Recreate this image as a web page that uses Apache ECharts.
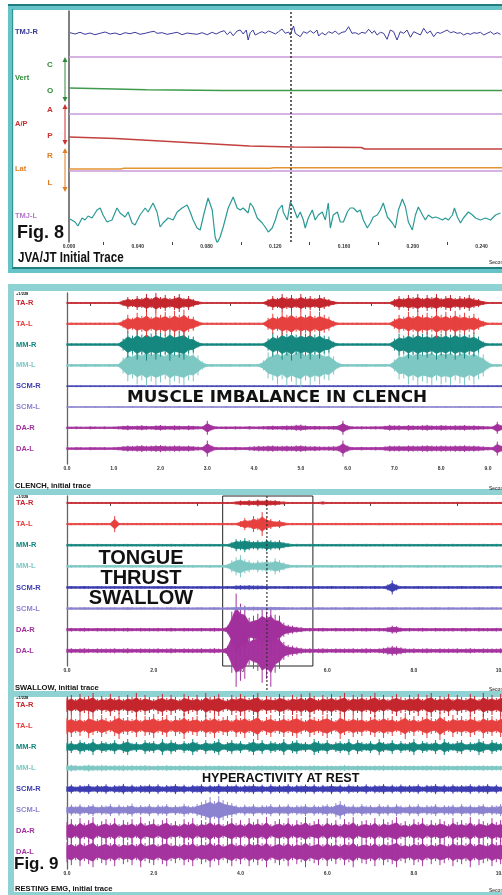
<!DOCTYPE html>
<html>
<head>
<meta charset="utf-8">
<script src="https://cdn.jsdelivr.net/npm/echarts@6/dist/echarts.min.js"></script>
<style>
html,body{margin:0;padding:0;background:#fff}
#chart{width:502px;height:895px}
</style>
</head>
<body>
<div id="chart"></div>
<script>
// ===== Fig. 8 : jaw tracking + joint vibration (time in ms) =====
const fig8Lanes = ['TMJ-R', 'Vert', 'A/P', 'Lat', 'TMJ-L'];
const fig8Letters = ['C', 'O', 'A', 'P', 'R', 'L'];

// [ms, amplitude]
const tmjR = [[0.6,0.3],[3.5,-1],[6.4,0.7],[9.3,-1.3],[12.2,0],[15.1,-1.7],[18.1,-0.3],[21.0,1],[23.9,-1],[26.8,0],[29.7,-1.7],[32.6,0.3],[35.5,-0.7],[38.4,0.7],[41.3,-1.3],[44.3,-0.3],[47.2,1],[49.5,1.7],[51.2,-0.3],[54.2,0.3],[57.1,-1.3],[60.0,-0.3],[62.9,0.7],[65.8,-1.7],[68.7,0],[71.6,-0.7],[74.5,-1.3],[77.4,0.3],[80.4,-1.7],[83.3,0.7],[85.6,-1],[87.9,1],[90.3,2.3],[92.0,-1.7],[93.8,1.3],[95.5,-2.7],[97.8,2],[99.6,3],[101.3,-1],[103.1,3],[104.2,-7],[105.4,0.3],[107.0,3],[108.3,-2],[110.2,-0.3],[112.2,1.3],[114.1,-0.3],[116.1,2],[118.0,0.7],[120.0,-1],[121.9,1.3],[123.9,4],[125.8,-0.3],[127.7,1],[128.7,-2],[129.7,3],[130.6,7],[131.6,-0.3],[132.6,1.3],[134.5,-3.7],[136.4,1.3],[138.4,-0.3],[140.3,2.3],[142.3,-0.3],[144.2,3],[145.2,-3],[147.1,0.3],[149.1,-2],[151.0,1.3],[153.0,-0.3],[154.9,2],[156.8,-1.3],[158.8,0.7],[160.7,1.3],[162.6,6.3],[164.6,-0.3],[166.5,0.3],[168.5,-1.3],[170.4,0.7],[172.4,-0.3],[174.3,3.7],[176.3,-0.3],[177.6,2.3],[179.2,-2],[181.1,0.7],[183.0,-0.3],[185.0,-6.3],[186.9,3],[188.8,1.3],[190.8,-7],[192.7,1.3],[194.7,-0.3],[196.6,3],[198.6,-4.3],[200.5,1.3],[202.5,-0.3],[204.4,-2],[206.3,4.7],[208.3,-0.3],[210.2,2],[212.1,-3.7],[214.1,0.7],[216.0,-0.3],[218.0,1.3],[219.9,3],[221.9,0.3],[223.8,1.3],[225.8,-0.3],[227.7,0.3],[229.6,-2],[231.6,-0.3],[233.5,-1.3],[235.5,0.3],[237.4,-0.3],[239.3,0.7],[241.3,-2],[243.2,-0.3],[245.2,1.3],[247.1,-1.3],[249.1,0.3],[251.0,-1.3]];
const tmjL = [[0.6,-1],[3.5,-4],[5.2,-8],[7.6,0],[9.3,-2],[11.1,2],[13.4,0],[16.3,8],[18.1,10],[19.8,3],[22.1,-4],[25.0,-2],[27.9,10],[29.7,5],[32.6,1],[34.4,6],[36.7,-5],[38.4,-7],[41.3,3],[44.3,10],[46.0,6],[48.9,15],[51.2,6],[53.0,-9],[54.7,-5],[57.6,0],[60.6,-2],[62.9,6],[65.8,10],[68.7,13],[70.5,6],[72.2,-2],[74.5,-10],[76.3,-12],[78.6,5],[80.9,20],[83.3,8],[85.0,-19],[86.2,-25],[87.9,-19],[89.7,-9],[92.6,10],[95.5,21],[97.8,10],[99.6,8],[101.3,10],[104.2,5],[105.4,15],[107.1,11],[109.5,0],[112.4,-5],[114.1,-9],[115.9,-14],[118.2,-10],[120.0,-2],[121.7,8],[124.0,13],[124.6,6],[127.0,-2],[128.7,16],[130.4,11],[132.8,0],[134.5,6],[136.3,-2],[137.4,-10],[139.2,0],[141.5,8],[143.2,-2],[145.0,3],[147.3,6],[149.1,-2],[150.8,15],[152.0,-10],[153.7,3],[156.1,6],[157.8,-4],[159.6,-4],[161.9,6],[163.6,10],[165.4,10],[167.7,6],[169.4,8],[171.2,-2],[173.5,-10],[175.3,-5],[177.0,1],[179.3,3],[181.1,8],[182.8,15],[185.2,1],[188.1,-5],[189.8,-10],[191.6,8],[193.9,19],[195.7,11],[197.4,-4],[199.7,-12],[201.5,3],[203.2,11],[205.6,3],[207.3,-2],[209.0,3],[211.4,0],[213.1,1],[214.9,0],[217.2,-2],[218.9,0],[220.7,-2],[223.0,3],[224.2,10],[225.9,1],[227.7,-5],[229.4,0],[232.3,6],[234.7,3],[236.4,0],[239.3,-2],[242.2,0],[245.2,-2],[248.1,3],[251.0,5]];
// jaw position traces [ms, displacement]
const vertTrace = [[0,0],[20,-0.7],[45,-1.8],[90,-2.6],[260,-2.6]];
const apTrace = [[0,0],[27,-1.5],[105,-9],[131,-10],[170,-10.5],[172,-12],[260,-12]];
const latTrace = [[0,0],[30,0],[32,0.7],[117,0.7],[119,1.3],[260,1.3]];
const fig8Cursor = 128.7;

// ===== Fig. 9 : surface EMG envelopes, one sample every 0.1 s =====
const emgLanes = ['TA-R', 'TA-L', 'MM-R', 'MM-L', 'SCM-R', 'SCM-L', 'DA-R', 'DA-L'];
const sampleStep = 0.1;

const clenchTAR = [0.8,0.9,0.8,0.8,0.9,0.8,0.8,0.9,0.8,0.8,0.9,0.8, 3,6,4,7,5,9,5,10,6,8,5,7,9,5,7,4,2, 0.8,0.9,0.8,0.8,0.9,0.8,0.8,0.9,0.8,0.8,0.9,0.8,0.8,0.9, 4,7,5,9,6,8,5,9,6,7,5,8,6,4,2, 0.8,0.9,0.8,0.8,0.9,0.8,0.8,0.9,0.8,0.8,0.9,0.8, 4,7,5,8,6,9,5,8,6,9,5,7,8,5,7,6,8,5,4,2, 0.8,0.9,0.8,0.8,0.9,0.8,0.8];
const clenchTAL = [1,1.1,1,1,1.1,1,1,1.1,1,1,1.1,1, 4,9,6,11,8,13,7,11,9,12,8,13,9,14,8,7,3, 1,1.1,1,1,1.1,1,1,1.1,1,1,1.1,1,1,1.1, 6,10,7,12,9,14,8,12,9,13,8,12,9,7,3, 1,1.1,1,1,1.1,1,1,1.1,1,1,1.1,1, 5,9,7,12,8,13,9,11,8,14,9,12,8,13,9,11,8,10,6,3, 1,1.1,1,1,1.1,1,1];
const clenchMMR = [1.2,1.3,1.2,1.2,1.3,1.2,1.2,1.3,1.2,1.2,1.3,1.2, 6,13,9,15,10,16,11,15,12,10,16,11,13,15,9,8,3, 1.2,1.3,1.2,1.2,1.3,1.2,1.2,1.3,1.2,1.2,1.3,1.2,1.2,1.3, 6,12,9,15,11,16,10,14,11,15,10,14,9,8,3, 1.2,1.3,1.2,1.2,1.3,1.2,1.2,1.3,1.2,1.2,1.3,1.2, 6,11,9,14,10,15,11,13,10,15,11,14,10,15,11,14,10,12,8,3, 1.2,1.3,1.2,1.2,1.3,1.2,1.2];
const clenchMML = [1.2,1.5,1.2,1.4,1.6,1.2,1.5,1.3,1.2,1.5,1.3,1.4, 8,16,13,19,15,21,16,20,17,14,21,16,18,20,15,16,10,4, 1.3,1.5,1.2,1.4,1.3,1.5,1.2,1.4,1.3,1.5,1.2,1.4, 5,13,15,19,14,21,16,20,22,15,20,16,19,14,15,9,3, 1.3,1.5,1.2,1.4,1.3,1.5,1.2,1.4,1.3,1.5,1.2, 6,14,13,19,15,20,16,18,20,15,19,17,20,15,18,20,15,19,14,11,4, 1.3,1.5,1.2,1.4,1.3,1.5];
const clenchSCMR = [0.7,0.6,0.7,0.7,0.6,0.7,0.6,0.7,0.7,0.6, 0.7,0.6,0.7,0.7,0.6,0.7,0.6,0.7,0.7,0.6, 0.7,0.6,0.7,0.7,0.6,0.7,0.6,0.7,0.7,0.6, 0.7,0.6,0.7,0.7,0.6,0.7,0.6,0.7,0.7,0.6, 0.7,0.6,0.7,0.7,0.6,0.7,0.6,0.7,0.7,0.6, 0.7,0.6,0.7,0.7,0.6,0.7,0.6,0.7,0.7,0.6, 0.7,0.6,0.7,0.7,0.6,0.7,0.6,0.7,0.7,0.6, 0.7,0.6,0.7,0.7,0.6,0.7,0.6,0.7,0.7,0.6, 0.7,0.6,0.7,0.7,0.6,0.7,0.6,0.7,0.7,0.6, 0.7,0.6,0.7,0.7,0.6,0.7,0.6];
const clenchSCML = [0.6,0.7,0.6,0.6,0.7,0.6,0.7,0.6,0.6,0.7, 0.6,0.7,0.6,0.6,0.7,0.6,0.7,0.6,0.6,0.7, 0.6,0.7,0.6,0.6,0.7,0.6,0.7,0.6,0.6,0.7, 0.6,0.7,0.6,0.6,0.7,0.6,0.7,0.6,0.6,0.7, 0.6,0.7,0.6,0.6,0.7,0.6,0.7,0.6,0.6,0.7, 0.6,0.7,0.6,0.6,0.7,0.6,0.7,0.6,0.6,0.7, 0.6,0.7,0.6,0.6,0.7,0.6,0.7,0.6,0.6,0.7, 0.6,0.7,0.6,0.6,0.7,0.6,0.7,0.6,0.6,0.7, 0.6,0.7,0.6,0.6,0.7,0.6,0.7,0.6,0.6,0.7, 0.6,0.7,0.6,0.6,0.7,0.6,0.7];
const clenchDAR = [1.2,1.0,1.3,1.1,1.0,1.4,1.2,1.1,1.3,1.0,1.2,1.5, 2,2.5,1.8,2.2,2.6,2,1.8,2.4,2.8,2.2,2,2.5,2.2,1.8,2.4,2,1.6,1.5, 7, 2.5,1.3,1.2,1.4,1.2,1.5,1.3,1.2,1.6,1.3,1.4,1.6, 1.8,2.2,1.8,2,2.4,2.2,3,3.2,2.4,1.8,2,1.8,1.6,1.8,2,2.4, 7, 2.5,1.4,1.3,1.5,1.3,1.4,1.6,1.4,2,3, 2.4,2.6,2,2.8,2.4,2.2,2.6,3,2.4,2.2,2.8,2.5,2.2,2.6,2.4,2.8,2.2,2.5,2,1.8,1.5,1.4, 6, 2.5,1.5,1.3,1.4];
const clenchDAL = [1.3,1.2,1.5,1.3,1.2,1.6,1.4,1.3,1.5,1.2,1.4,1.7, 2.5,3,2.6,3.2,3.5,2.8,3,3.4,3.6,3,2.8,3.2,3,2.6,3,2.5,2,1.8, 8, 3,1.5,1.4,1.6,1.4,1.8,1.5,1.4,2,2.4,2.8,2.6, 3,3.2,2.6,2.8,3,2.6,3.2,3.4,2.8,2.4,2.6,2.2,2,2.2,2.4,2.8, 8, 3,1.6,1.5,1.8,1.5,1.6,1.8,1.6,2.2,3, 2.8,3,2.6,3.2,3,2.8,3.2,3.4,3,2.8,3.2,3,2.8,3.2,3,3.4,2.8,3,2.6,2.2,1.8,1.6, 7, 3,1.8,1.5,1.6];

const swallowTAR = [0.8,0.9,0.8,0.8,0.9,0.8,0.8,0.9,0.8,0.8, 0.9,0.8,0.8,0.9,0.8,0.8,0.9,0.8,0.8,0.9, 0.8,0.8,0.9,0.8,0.8,0.9,0.8,0.8,0.9,0.8, 0.8,0.9,0.8,0.8,0.9,0.8,0.8,0.9,0.8, 1.5,2.5,2,3,2.2,3.5,2.4,3.6,2.6,2.8,1.8,1.4, 0.8,0.9,0.8,0.8,0.9,0.8,0.8,0.9,1.5,0.8, 0.9,0.8,0.8,0.9,0.8,0.8,0.9,0.8,0.8,0.9, 0.9,0.8,0.8,0.9,0.8,0.8,0.9,0.8,0.8,0.9, 0.9,0.8,0.8,0.9,0.8,0.8,0.9,0.8,0.8,0.9, 0.9,0.8,0.8,0.9,0.8,0.8,0.9,0.8,0.8,0.9, 0.8,0.9,0.8,0.8];
const swallowTAL = [1,1.1,1,1,1.1,1,1,1.1,1,1,1.1, 8, 1,1,1.1,1,1,1.1,1,1,1.1,1, 1,1.1,1,1,1.1,1,1,1.1,1,1, 1.1,1,1,1.1,1,1,1.1,1, 3,6,4,8,6,12,6,5,3,4,2, 1,1.1,1,1,1.1,1,1,1.1,1,1, 1,1.1,1,1,1.1,1,1,1.1,1,1, 1,1.1,1,1,1.1,1,1,1.1,1,1, 1,1.1,1,1,1.1,1,1,1.1,1,1, 1,1.1,1,1,1.1,1,1,1.1,1,1, 1.1,1,1,1.1];
const swallowMMR = [1.2,1.3,1.2,1.2,1.3,1.2,1.2,1.3,1.2,1.2, 1.2,1.3,1.2,1.2,1.3,1.2,1.2,1.3,1.2,1.2, 1.2,1.3,1.2,1.2,1.3,1.2,1.2,1.3,1.2,1.2, 1.3,1.2,1.2,1.3,1.2,1.2,1.3,1.2, 3,6,5,7,5,4,5,4,6,5,4,5,3,2, 1.2,1.3,1.2,1.2,1.3,1.2,1.2,1.3,1.2,1.2, 1.2,1.3,1.2,1.2,1.3,1.2,1.2,1.3,1.2,1.2, 1.2,1.3,1.2,1.2,1.3,1.2,1.2,1.3,1.2,1.2, 1.2,1.3,1.2,1.2,1.3,1.2,1.2,1.3,1.2,1.2, 1.2,1.3,1.2,1.2,1.3,1.2,1.2,1.3,1.2,1.2, 1.3,1.2,1.2];
const swallowMML = [1.2,1.4,1.2,1.3,1.2,1.4,1.2,1.3,1.2,1.4, 1.2,1.4,1.2,1.3,1.2,1.4,1.2,1.3,1.2,1.4, 1.2,1.4,1.2,1.3,1.2,1.4,1.2,1.3,1.2,1.4, 1.2,1.3,1.2,1.4,1.2,1.3,1.2, 2,6,9,11,7,6,4,6,5,7,5,8,6,4,2, 1.2,1.4,1.2,1.3,1.2,1.4,1.2,1.3,1.2,1.4, 1.2,1.4,1.2,1.3,1.2,1.4,1.2,1.3,1.2,1.4, 1.2,1.4,1.2,1.3,1.2,1.4,1.2,1.3,1.2,1.4, 1.2,1.4,1.2,1.3,1.2,1.4,1.2,1.3,1.2,1.4, 1.2,1.4,1.2,1.3,1.2,1.4,1.2,1.3,1.2,1.4, 1.2,1.3,1.2];
const swallowSCMR = [1.3,1.4,1.2,1.3,1.5,1.3,1.2,1.4,1.3,1.2, 1.3,1.4,1.2,1.3,1.5,1.3,1.2,1.4,1.3,1.2, 1.3,1.4,1.2,1.3,1.5,1.3,1.2,1.4,1.3,1.2, 1.3,1.4,1.2,1.3,1.5,1.3,1.2,1.4,1.3, 2,2.2,2,2.3,2,2,1.8,1.6, 1.3,1.4,1.2,1.3,1.5,1.3,1.2,1.4,1.3,1.2, 1.3,1.4,1.2,1.3,1.5,1.3,1.2,1.4,1.3,1.2, 1.3,1.4,1.2,1.3,1.5,1.3,1.2, 3,7,3, 1.3,1.4,1.2,1.3,1.5,1.3,1.2,1.4,1.3,1.2, 1.3,1.4,1.2,1.3,1.5,1.3,1.2,1.4,1.3,1.2, 1.3,1.4,1.2,1.3,1.5,1.3,1.2,1.4];
const swallowSCML = [1.2,1.3,1.1,1.2,1.4,1.2,1.1,1.3,1.2,1.1, 1.2,1.3,1.1,1.2,1.4,1.2,1.1,1.3,1.2,1.1, 1.2,1.3,1.1,1.2,1.4,1.2,1.1,1.3,1.2,1.1, 1.2,1.3,1.1,1.2,1.4,1.2,1.1,1.3,1.2, 1.8,1.9,1.7,1.8,2,1.8,1.7,1.9,1.8,1.7,1.6,1.5, 1.2,1.3,1.1,1.2,1.4,1.2,1.1,1.3,1.2,1.1, 1.2,1.3,1.1,1.2,1.4,1.2,1.1,1.3,1.2,1.1, 1.2,1.3,1.1,1.2,1.4,1.2,1.1,1.3,1.2,1.1, 1.2,1.3,1.1,1.2,1.4,1.2,1.1,1.3,1.2,1.1, 1.2,1.3,1.1,1.2,1.4,1.2,1.1,1.3,1.2,1.1, 1.2,1.3,1.1,1.2];
const swallowDAR = [1.6,1.8,1.5,1.7,1.9,1.6,1.5,1.8,1.6,1.7, 1.6,1.8,1.5,1.7,1.9,1.6,1.5,1.8,1.6,1.7, 1.6,1.8,1.5,1.7,1.9,1.6,1.5,1.8,1.6,1.7, 1.6,1.8,1.5,1.7,1.9,1.6,1.5, 4,18,36,26,24,12,14,16,22,18,22,15,14,7,5,4,3,2.5, 1.6,1.8,1.5,1.7,1.9,1.6,1.5,1.8,1.6,1.7, 1.6,1.8,1.5,1.7,1.9,1.6,1.5,1.8,1.6, 2.5,4,3.5,2, 1.6,1.8,1.5,1.7,1.9,1.6,1.5,1.8,1.6,1.7, 1.6,1.8,1.5,1.7,1.9,1.6,1.5,1.8,1.6,1.7, 1.6,1.8,1.5,1.7,1.9,1.6,1.5];
const swallowDAL = [2.2,2.5,2,2.3,2.6,2.2,2,2.4,2.2,2.3, 2.2,2.5,2,2.3,2.6,2.2,2,2.4,2.2,2.3, 2.2,2.5,2,2.3,2.6,2.2,2,2.4,2.2,2.3, 2.2,2.5,2,2.3,2.6,2.2,2, 5,22,36,30,28,14,18,20,32,28,36,22,18,9,6,5,4,3, 2.2,2.5,2,2.3,2.6,2.2,2,2.4,2.2,2.3, 2.2,2.5,2,2.3,2.6,2.2,2,2.4, 3,4,5,4.5,3.5,2.5, 2.2,2.5,2,2.3,2.6,2.2,2,2.4,2.2,2.3, 2.2,2.5,2,2.3,2.6,2.2,2,2.4,2.2,2.3, 2.2,2.5,2,2.3,2.6,2.2];

const restTAR = [7,10,6,11,8,9,12,6,9,7, 11,7,9,6,10,8,12,7,10,8, 6,9,11,7,10,8,6,11,9,7, 10,6,12,8,9,11,7,6,10,8, 11,9,7,10,12,6,9,8,7,11, 9,6,10,8,11,7,12,9,6,10, 8,11,7,9,12,6,10,8,11,7, 9,12,7,10,6,9,11,8,7,10, 8,11,6,10,12,7,9,8,11,6, 10,8,7,11,9,6,12,8,10,7, 11,9,6,10,8];
const restTAL = [8,11,7,10,6,12,9,7,11,8, 6,10,13,8,9,7,11,6,10,9, 12,7,9,11,6,10,8,13,7,9, 10,6,11,8,12,7,9,10,6,11, 8,12,7,10,14,6,9,11,7,8, 11,7,10,12,8,6,11,9,7,10, 12,8,6,13,9,7,11,8,10,6, 9,11,7,12,8,10,6,9,13,7, 10,6,9,12,8,7,14,9,6,11, 8,10,7,11,9,6,12,8,10,7, 11,9,7,10,8];
const restMMR = [4,6,3,7,5,4,8,3,6,5, 4,7,3,6,8,4,5,3,7,5, 6,3,8,4,7,5,3,6,4,8, 5,3,7,4,6,8,3,5,7,4, 6,3,5,8,4,7,3,6,5,4, 8,3,6,7,4,5,3,8,6,4, 7,3,5,6,4,8,3,7,5,4, 6,3,8,5,4,7,3,6,4,5, 8,3,6,5,4,7,3,8,5,4, 6,7,3,5,4,8,6,3,7,5, 4,6,3,7,5];
const restMML = [3,3.5,3,2.5,3,3.5,3,2.8,3.2,3, 2.5,3,2.8,3.2,2.6,3,2.5,2.8,3,2.6, 2.4,2.8,2.5,3,2.6,2.4,2.8,2.5,2.7,2.4, 2.6,2.3,2.8,2.5,2.4,2.7,2.5,2.3,2.6,2.5, 2.4,2.7,2.5,2.3,2.6,2.8,2.4,2.5,2.7,2.4, 2.6,2.5,2.3,2.7,2.5,2.4,2.6,2.8,2.5,2.4, 2.7,2.5,2.4,2.6,3,2.5,2.4,2.7,2.5,2.6, 2.4,2.6,2.5,2.8,2.4,2.6,2.5,2.4,2.7,2.5, 2.6,2.4,2.5,2.7,2.5,2.3,2.6,2.8,2.5,2.4, 2.6,2.5,2.7,2.4,2.6,2.5,2.8,2.4,2.6,2.5, 2.4,2.6,2.5,2.7,2.5];
const restSCMR = [3,4.5,2.6,4,3.4,5,2.8,4.2,3.2,4.8, 2.6,4,3.6,5.2,3,4.4,2.8,4,3.6,4.6, 3,4.8,2.8,4,3.4,5,3,4.4,2.6,4.2, 3.6,4.8,2.8,4.2,3.2,5,3,4.4,3.4,4.6, 2.8,4.2,3.6,5,3,4.4,2.6,4.8,3.2,4, 3.4,5,2.8,4.2,3.6,4.6,3,4.8,2.8,4.2, 3.2,5,3,4.4,2.6,4.6,3.4,4,3,4.8, 2.8,4.2,3.6,5,3,4.4,2.8,4.6,3.2,4, 3.4,4.8,2.6,4.2,3.6,5,3,4.4,2.8,4.6, 3.2,4,3.4,4.8,2.8,4.2,3.6,5,3,4.4, 2.6,4.6,3.2,4.8,3];
const restSCML = [3.5,5.5,4,6,3.5,5,6,3.5,5,4.5, 6,3.5,5.5,4,5,6.5,3.5,5,4,6, 3.5,5.5,4.5,6,3.5,5,4,6.5,4.5,4, 6,8,10,13,9,14,10,8,7,5, 3.5,5.5,4,6,3.5,5,4.5,6,3.5,5.5, 4,6,3.5,5,4.5,6,3.5,5.5,4,5, 6,4,7,9,6,4,5.5,3.5,6,4.5, 5,3.5,6,4,5.5,3.5,6,4.5,3.5,5.5, 4,6,3.5,5,4.5,6,3.5,5,4.5,5.5, 3.5,6,4,5.5,3.5,5,6,3.5,5,4.5, 6,3.5,5.5,4,5];
const restDAR = [9,12,7,13,8,11,14,7,10,12, 8,13,7,11,9,12,7,14,8,10, 12,7,11,13,8,10,7,12,9,13, 7,11,9,14,8,12,7,10,13,8, 11,7,13,9,12,8,14,7,10,12, 8,13,7,11,9,14,8,10,12,7, 13,8,11,7,12,9,14,7,10,11, 8,13,7,12,9,11,14,8,10,7, 12,9,13,7,11,8,12,10,7,13, 9,11,8,14,7,12,10,8,13,9, 11,7,12,9,10];
const restDAL = [10,13,8,14,9,12,15,8,11,13, 9,14,8,12,10,13,8,15,9,11, 13,8,12,14,9,11,8,13,10,14, 8,12,10,15,9,13,8,11,14,9, 12,8,14,10,13,9,15,8,11,13, 9,14,8,12,10,15,9,11,13,8, 14,9,12,8,13,10,15,8,11,12, 9,14,8,13,10,12,15,9,11,8, 13,10,14,8,12,9,13,11,8,14, 10,12,9,15,8,13,11,9,14,10, 12,8,13,10,11];

const swallowWindow = [3.59, 5.67];
const swallowCursor = 4.61;

// ===== styling =====
const NARROW = '"Liberation Sans Narrow", "Arial Narrow", "Liberation Sans", Arial, sans-serif';
const SANS = '"Liberation Sans", Arial, sans-serif';
const emgColors = ['#c4262e', '#e6403f', '#15877f', '#7ec8c4', '#3d3db2', '#8b83cf', '#a2309c', '#a5349f'];
const fig8TraceColors = { tmjR: '#3b3b9d', vert: '#3f9a4d', ap: '#c2413f', lat: '#e39433', tmjL: '#2a9a96' };
const fig8LabelColors = ['#3a3a9a', '#2e8a3a', '#cc3030', '#e07b22', '#b27ac8'];
const fig8LetterColors = ['#2e8a3a', '#2e8a3a', '#cc3030', '#cc3030', '#e07b22', '#e07b22'];

// Fig. 8 vertical layout (y axis runs 0..231, bottom to top)
const fig8LabelAt = [210, 164, 118, 73, 26];
const fig8LetterAt = [177, 151, 132, 106, 86, 59];
const fig8Base = { tmjR: 209, vert: 154, ap: 105, lat: 73, tmjL: 24 };
const fig8RefLines = [185, 128, 71];

function richFor(colors, size) {
  const r = {};
  colors.forEach((c, i) => { r['k' + i] = { color: c, fontSize: size, fontWeight: 'bold', fontFamily: NARROW }; });
  return r;
}

function emgXAxis(gridIndex, max, interval) {
  return {
    gridIndex, type: 'value', min: 0, max, interval,
    axisLine: { show: false }, axisTick: { show: false },
    minorTick: { show: true, splitNumber: 2, length: 3, lineStyle: { color: '#444', width: 1 } },
    splitLine: { show: false }, minorSplitLine: { show: false },
    axisLabel: { fontSize: 5, color: '#333', fontWeight: 'bold', margin: 2, showMaxLabel: false,
      formatter: v => v.toFixed(1) }
  };
}

function emgYAxis(gridIndex, min, max) {
  return {
    gridIndex, type: 'value', inverse: true, min, max,
    axisLine: { show: true, lineStyle: { color: '#666', width: 1.3 } },
    axisTick: { show: false }, splitLine: { show: false },
    axisLabel: {
      customValues: emgLanes.map((_, i) => i), align: 'left', margin: 51,
      formatter: v => '{k' + v + '|' + emgLanes[v] + '}',
      rich: richFor(emgColors, 7.5)
    }
  };
}

// each lane: a solid core band plus one spike per sample out to the full amplitude
function emgSeries(axisIndex, amps, unitsPerLane) {
  return {
    type: 'custom', xAxisIndex: axisIndex, yAxisIndex: axisIndex + 1,
    silent: true, z: 3,
    data: [7, 6, 5, 4, 3, 2, 1, 0].map(k => [0, k]),
    encode: { x: 0, y: 1 },
    renderItem: (params, api) => {
      const lane = api.value(1);
      const a = amps[lane];
      const color = emgColors[lane];
      const upper = [], lower = [], spikes = [];
      for (let i = 0; i < a.length; i++) {
        const t = i * sampleStep;
        const h = a[i] / unitsPerLane;
        upper.push(api.coord([t, lane - h * 0.6]));
        lower.push(api.coord([t, lane + h * 0.6]));
        const p1 = api.coord([t, lane - h]);
        const p2 = api.coord([t, lane + h]);
        spikes.push({ type: 'line', shape: { x1: p1[0], y1: p1[1], x2: p2[0], y2: p2[1] },
          style: { stroke: color, lineWidth: 1 } });
      }
      return {
        type: 'group',
        children: [{
          type: 'polygon',
          shape: { points: upper.concat(lower.reverse()) },
          style: { fill: color, stroke: color, lineWidth: 0.8 }
        }].concat(spikes)
      };
    }
  };
}

function lineSeries(points, base, color, width) {
  return {
    type: 'line', xAxisIndex: 0, yAxisIndex: 0, silent: true, showSymbol: false,
    data: points.map(([t, v]) => [t, base + v]),
    lineStyle: { color, width }, z: 3
  };
}

function text(x, y, str, size, opts) {
  return Object.assign({
    type: 'text', x, y, z: 100, silent: true,
    style: Object.assign({ text: str, fill: '#111', fontSize: size, fontWeight: 'bold',
      fontFamily: SANS, verticalAlign: 'middle', align: 'left' }, (opts && opts.style) || {})
  }, (opts && opts.el) || {});
}

function arrow(x, y1, y2, color) {
  return {
    type: 'group', z: 50, silent: true,
    children: [
      { type: 'line', shape: { x1: x, y1: y1 + 4, x2: x, y2: y2 - 4 }, style: { stroke: color, lineWidth: 1 } },
      { type: 'polygon', shape: { points: [[x, y1], [x - 2.5, y1 + 5], [x + 2.5, y1 + 5]] }, style: { fill: color } },
      { type: 'polygon', shape: { points: [[x, y2], [x - 2.5, y2 - 5], [x + 2.5, y2 - 5]] }, style: { fill: color } }
    ]
  };
}

const frames = [
  // Fig. 8 frame
  { type: 'rect', z: -10, silent: true, shape: { x: 8, y: 4, width: 600, height: 269 }, style: { fill: '#66c3c7' } },
  { type: 'rect', z: -9, silent: true, shape: { x: 13, y: 10, width: 600, height: 257 }, style: { fill: '#fff' } },
  { type: 'rect', z: -8, silent: true, shape: { x: 8, y: 4, width: 600, height: 2 }, style: { fill: '#1f7f80' } },
  { type: 'rect', z: -8, silent: true, shape: { x: 12, y: 267, width: 600, height: 2 }, style: { fill: '#1f7f80' } },
  { type: 'rect', z: -8, silent: true, shape: { x: 12, y: 9, width: 1.2, height: 259 }, style: { fill: '#2f9496' } },
  // Fig. 9 frame with three panels
  { type: 'rect', z: -10, silent: true, shape: { x: 8, y: 284, width: 600, height: 620 }, style: { fill: '#8ed2d4' } },
  { type: 'rect', z: -9, silent: true, shape: { x: 14, y: 291, width: 600, height: 198 }, style: { fill: '#fff' } },
  { type: 'rect', z: -9, silent: true, shape: { x: 14, y: 495, width: 600, height: 196 }, style: { fill: '#fff' } },
  { type: 'rect', z: -9, silent: true, shape: { x: 14, y: 697, width: 600, height: 195 }, style: { fill: '#fff' } }
];

const labels = [
  text(17, 233, 'Fig. 8', 18),
  text(18, 258, 'JVA/JT Initial Trace', 14, { style: { fontFamily: NARROW }, el: { scaleX: 0.83 } }),
  text(489, 263, 'Seconds', 5, { style: { fontWeight: 'normal' } }),
  text(16, 294, '+1/228', 4),
  text(15, 486, 'CLENCH, initial trace', 8, { el: { scaleX: 0.95 } }),
  text(489, 489, 'Seconds', 5, { style: { fontWeight: 'normal' } }),
  text(127, 398, 'MUSCLE IMBALANCE IN CLENCH', 16, { style: { fontFamily: '"DejaVu Sans", sans-serif' }, el: { scaleX: 1.05 } }),
  text(16, 497, '+1/228', 4),
  text(141, 578, 'TONGUE\nTHRUST\nSWALLOW', 20, { style: { align: 'center', lineHeight: 20 } }),
  text(15, 688, 'SWALLOW, initial trace', 8, { el: { scaleX: 0.95 } }),
  text(489, 690, 'Seconds', 5, { style: { fontWeight: 'normal' } }),
  text(16, 698, '+1/228', 4),
  text(202, 778, 'HYPERACTIVITY AT REST', 13, { style: { fontFamily: NARROW }, el: { scaleX: 0.97 } }),
  text(14, 864, 'Fig. 9', 17),
  text(15, 889, 'RESTING EMG, initial trace', 8, { el: { scaleX: 0.95 } }),
  text(489, 891, 'Seconds', 5, { style: { fontWeight: 'normal' } })
];

const arrows = [
  arrow(65, 57, 102, '#2e8a3a'),
  arrow(65, 104, 145, '#cc3030'),
  arrow(65, 148, 192, '#e07b22')
];

const chart = echarts.init(document.getElementById('chart'), null, { renderer: 'canvas' });

const gridBase = { containLabel: false, outerBoundsMode: 'none' };

chart.setOption({
  animation: false,
  backgroundColor: '#fff',
  textStyle: { fontFamily: SANS },
  grid: [
    Object.assign({ left: 69, top: 11, width: 447, height: 231 }, gridBase),
    Object.assign({ left: 67, top: 293, width: 449, height: 171 }, gridBase),
    Object.assign({ left: 67, top: 496, width: 451, height: 170 }, gridBase),
    Object.assign({ left: 67, top: 697, width: 451, height: 172 }, gridBase)
  ],
  xAxis: [
    {
      gridIndex: 0, type: 'value', min: 0, max: 260, interval: 40,
      axisLine: { show: false }, axisTick: { show: false },
      minorTick: { show: true, splitNumber: 2, length: 3, lineStyle: { color: '#444' } },
      splitLine: { show: false }, minorSplitLine: { show: false },
      axisLabel: { fontSize: 5, color: '#333', fontWeight: 'bold', margin: 2, showMaxLabel: false,
        formatter: v => (v / 1000).toFixed(3) }
    },
    emgXAxis(1, 9.6, 1),
    emgXAxis(2, 10.4, 2),
    emgXAxis(3, 10.4, 2)
  ],
  yAxis: [
    {
      gridIndex: 0, type: 'value', min: 0, max: 231, position: 'left',
      axisLine: { show: true, lineStyle: { color: '#555', width: 1.5 } },
      axisTick: { show: false }, splitLine: { show: false },
      axisLabel: {
        customValues: fig8LabelAt, align: 'left', margin: 54,
        formatter: v => { const i = fig8LabelAt.indexOf(v); return '{k' + i + '|' + fig8Lanes[i] + '}'; },
        rich: richFor(fig8LabelColors, 7.5)
      }
    },
    {
      gridIndex: 0, type: 'value', min: 0, max: 231, position: 'left', offset: 0,
      axisLine: { show: false }, axisTick: { show: false }, splitLine: { show: false },
      axisLabel: {
        customValues: fig8LetterAt, align: 'center', margin: 19,
        formatter: v => { const i = fig8LetterAt.indexOf(v); return '{k' + i + '|' + fig8Letters[i] + '}'; },
        rich: richFor(fig8LetterColors, 8)
      }
    },
    emgYAxis(1, -0.48, 7.74),
    emgYAxis(2, -0.33, 7.72),
    emgYAxis(3, -0.38, 7.8)
  ],
  series: [
    Object.assign(lineSeries(vertTrace, fig8Base.vert, fig8TraceColors.vert, 1.5), {
      markLine: {
        silent: true, symbol: 'none', label: { show: false }, animation: false,
        lineStyle: { color: '#c99ad8', width: 1.5, type: 'solid' },
        data: fig8RefLines.map(v => ({ yAxis: v })).concat([
          { xAxis: fig8Cursor, lineStyle: { color: '#333', width: 1.5, type: [2, 2] } }
        ])
      }
    }),
    lineSeries(apTrace, fig8Base.ap, fig8TraceColors.ap, 1.5),
    lineSeries(latTrace, fig8Base.lat, fig8TraceColors.lat, 1.5),
    lineSeries(tmjR, fig8Base.tmjR, fig8TraceColors.tmjR, 1),
    lineSeries(tmjL, fig8Base.tmjL, fig8TraceColors.tmjL, 1.2),

    emgSeries(1, [clenchTAR, clenchTAL, clenchMMR, clenchMML, clenchSCMR, clenchSCML, clenchDAR, clenchDAL], 20.8),
    emgSeries(2, [swallowTAR, swallowTAL, swallowMMR, swallowMML, swallowSCMR, swallowSCML, swallowDAR, swallowDAL], 21.1),
    emgSeries(3, [restTAR, restTAL, restMMR, restMML, restSCMR, restSCML, restDAR, restDAL], 21),

    {
      type: 'line', xAxisIndex: 2, yAxisIndex: 3, silent: true, showSymbol: false, clip: false, z: 4,
      data: [[swallowCursor, -0.33], [swallowCursor, 8.86]],
      lineStyle: { color: '#333', width: 1.2, type: [2, 2] },
      markArea: {
        silent: true,
        itemStyle: { color: 'rgba(0,0,0,0)', borderColor: '#222', borderWidth: 1 },
        data: [[{ xAxis: swallowWindow[0], yAxis: -0.42 }, { xAxis: swallowWindow[1], yAxis: 7.72 }]]
      }
    }
  ],
  graphic: frames.concat(arrows, labels)
});
</script>
</body>
</html>
